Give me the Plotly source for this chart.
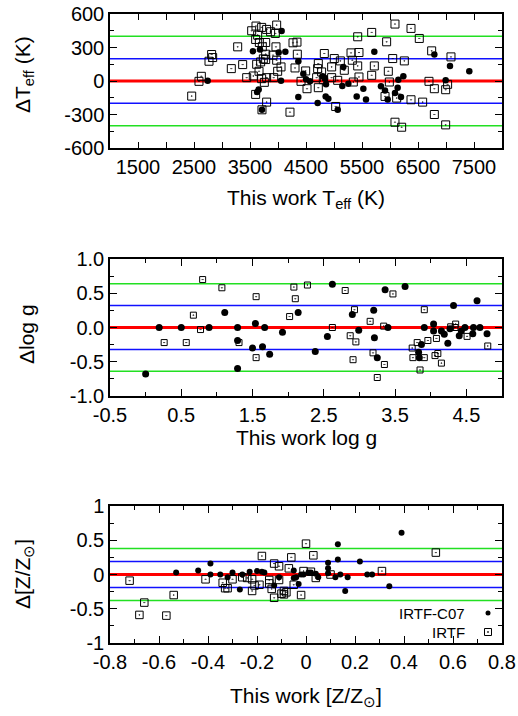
import plotly.graph_objects as go

# ---------------- data ----------------
# Top panel: Teff (K), difference (K)
teff_c07_x = [2744, 3553, 3678, 4065, 4012, 4054, 3655, 3625, 3714, 4131, 4363, 4452, 4500, 4571,
              4363, 4708, 4797, 4839, 4857, 4851, 4899, 5066, 5148, 5166, 5256, 5405, 5524, 5571,
              5720, 5839, 5911, 5959, 6089, 6137, 6149, 6238, 6196, 6792, 6994, 7071, 7416]
teff_c07_y = [3, 267, 282, 447, 255, 3, -75, -99, -258, 261, 177, 66, 15, -3,
              -144, -198, 42, 21, -30, -138, -159, -258, -45, 126, -24, -138, -69, -165,
              261, -48, -84, -165, -108, -60, 12, 42, -144, 237, 6, 135, 87]
teff_irtf_x = [2459, 2589, 2631, 2768, 2815, 2833, 3166, 3280, 3369, 3441, 3530, 3559, 3601, 3637,
               3667, 3780, 3607, 3708, 3797, 3868, 3976, 3952, 3720, 3780, 3738, 3619, 3690, 3780,
               3911, 3964, 3976, 4054, 3994, 3661, 3708, 3797, 3923, 3756, 3601, 3797, 3714, 4214,
               4268, 4339, 4345, 4304, 4494, 4411, 4518, 4708, 4720, 4690, 4779, 4720, 4809, 4827,
               4958, 4958, 5005, 5066, 5113, 5184, 5304, 5327, 5345, 5423, 5423, 5446, 5446, 5673,
               5720, 5673, 5940, 5970, 6048, 6089, 6375, 6256, 5988, 5911, 6119, 6375, 6583, 6523,
               6744, 6792, 6696, 6994, 7029, 7089, 6792, 6089, 6208, 6994, 5030]
teff_irtf_y = [-135, -3, 42, 177, 237, 210, 111, 306, 147, 30, 450, 45, 372, 411,
               345, 345, 492, 480, 462, 441, 501, 426, 306, 240, 198, 150, 171, 192,
               231, 306, 186, 126, 87, 87, 21, 30, 30, -12, -120, -189, -258, -279,
               342, 348, 240, 117, 90, -3, -69, 111, 156, 30, 81, -60, 12, 246,
               126, 30, 201, 6, 180, 96, 252, 186, -9, 396, 135, 255, 36, 435,
               135, 51, 351, 87, 201, 510, 471, 180, -9, -138, -153, -168, -189, 381,
               270, -69, -3, -78, -30, 216, -300, -369, -414, -393, -228]

# Middle panel: log g, difference
logg_c07_x = [0.0, 0.19, 0.50, 0.89, 1.11, 1.29, 1.29, 1.29, 1.54, 1.50, 1.64, 1.67, 1.74, 1.92,
              2.14, 2.38, 2.55, 2.62, 2.90, 2.99, 3.20, 3.21, 3.25, 3.36, 3.40, 3.64, 3.83, 3.84,
              3.87, 3.91, 4.04, 4.04, 4.15, 4.19, 4.24, 4.27, 4.32, 4.40, 4.43, 4.48, 4.59, 4.60,
              4.65, 4.69, 4.79]
logg_c07_y = [-0.68, 0.0, 0.0, 0.0, 0.22, 0.0, -0.19, -0.60, 0.06, -0.30, -0.28, 0.0, -0.39, -0.07,
              0.22, -0.35, -0.13, 0.63, 0.19, -0.04, 0.25, -0.15, -0.44, 0.55, 0.0, 0.60, -0.36, -0.44,
              -0.25, 0.0, 0.05, -0.05, -0.05, -0.10, -0.23, -0.02, 0.32, -0.12, -0.05, 0.0, -0.09, 0.0,
              0.39, 0.0, -0.09]
logg_irtf_x = [0.26, 0.57, 0.67, 0.77, 0.80, 1.07, 1.31, 1.55, 1.55, 2.02, 2.08, 2.10, 2.27, 2.62,
               2.80, 2.87, 2.93, 2.95, 2.91, 3.15, 3.19, 3.25, 3.34, 3.35, 3.47, 3.74, 3.75, 3.81,
               3.85, 3.91, 3.91, 3.96, 4.06, 4.10, 4.08, 4.15, 4.28, 4.34, 4.35, 4.51, 4.80]
logg_irtf_y = [-0.22, -0.22, 0.18, -0.03, 0.70, 0.58, -0.22, 0.45, -0.44, 0.16, 0.59, 0.42, 0.62, 0.0,
               0.54, -0.12, 0.26, -0.21, -0.47, 0.09, -0.37, -0.73, 0.02, -0.54, 0.49, -0.30, -0.44, -0.22,
               -0.62, -0.44, 0.26, -0.19, -0.41, -0.38, -0.16, -0.52, 0.01, 0.0, 0.05, -0.13, -0.27]

# Bottom panel: [Z/Zsun], difference
feh_c07_x = [-0.53, -0.44, -0.39, -0.39, -0.35, -0.32, -0.30, -0.27, -0.26, -0.23, -0.20, -0.18, -0.17,
             -0.11, -0.13, -0.05, -0.05, -0.04, -0.03, -0.02, -0.01, 0.01, 0.02, 0.04, 0.05, 0.09, 0.09,
             0.09, 0.13, 0.13, 0.12, 0.14, 0.16, 0.17, 0.22, 0.25, 0.27, 0.34, 0.39]
feh_c07_y = [0.03, 0.06, 0.16, 0.0, 0.0, -0.04, 0.03, -0.22, 0.0, 0.04, 0.05, 0.04, 0.03,
             -0.04, -0.16, 0.06, -0.05, -0.04, -0.14, 0.0, 0.0, 0.03, 0.03, 0.01, -0.04, 0.17, 0.09,
             0.02, 0.44, 0.22, -0.04, 0.0, -0.24, -0.04, 0.19, 0.0, 0.0, -0.17, 0.61]
feh_irtf_x = [-0.72, -0.66, -0.54, -0.41, -0.34, -0.33, -0.32, -0.30, -0.26, -0.24, -0.22, -0.22, -0.21,
              -0.19, -0.18, -0.15, -0.15, -0.14, -0.13, -0.11, -0.13, -0.11, -0.10, -0.08, -0.07, -0.06,
              -0.05, -0.09, -0.09, -0.02, 0.0, 0.03, -0.01, 0.02, 0.04, 0.10, 0.31, 0.53, -0.68, -0.57]
feh_irtf_y = [-0.09, -0.41, -0.30, -0.07, -0.12, -0.20, -0.20, -0.07, -0.04, -0.05, -0.07, -0.24, -0.16,
              -0.15, 0.27, -0.08, -0.13, -0.21, 0.16, 0.12, -0.34, -0.08, -0.28, -0.26, 0.09, 0.25,
              -0.15, -0.24, -0.29, -0.30, 0.45, 0.28, 0.05, 0.04, -0.05, 0.0, 0.05, 0.32, -0.59, -0.60]

# reference lines (zero, 1 sigma, 2 sigma)
teff_levels = [200, 400]
logg_levels = [0.32, 0.64]
feh_levels = [0.19, 0.38]

# ticks
teff_xtick_vals = [1500, 2500, 3500, 4500, 5500, 6500, 7500]
teff_xtick_text = ["1500", "2500", "3500", "4500", "5500", "6500", "7500"]
teff_xminor = [1000, 2000, 3000, 4000, 5000, 6000, 7000, 8000]
teff_ytick_vals = [-600, -300, 0, 300, 600]
teff_ytick_text = ["-600", "-300", "0", "300", "600"]
teff_yminor = [-450, -150, 150, 450]

logg_xtick_vals = [-0.5, 0.5, 1.5, 2.5, 3.5, 4.5]
logg_xtick_text = ["-0.5", "0.5", "1.5", "2.5", "3.5", "4.5"]
logg_xminor = [0, 1, 2, 3, 4, 5]
logg_ytick_vals = [-1.0, -0.5, 0.0, 0.5, 1.0]
logg_ytick_text = ["-1.0", "-0.5", "0.0", "0.5", "1.0"]
logg_yminor = [-0.75, -0.25, 0.25, 0.75]

feh_xtick_vals = [-0.8, -0.6, -0.4, -0.2, 0, 0.2, 0.4, 0.6, 0.8]
feh_xtick_text = ["-0.8", "-0.6", "-0.4", "-0.2", "0", "0.2", "0.4", "0.6", "0.8"]
feh_xminor = [-0.7, -0.5, -0.3, -0.1, 0.1, 0.3, 0.5, 0.7]
feh_ytick_vals = [-1, -0.5, 0, 0.5, 1]
feh_ytick_text = ["-1", "-0.5", "0", "0.5", "1"]
feh_yminor = [-0.75, -0.25, 0.25, 0.75]

# ---------------- layout geometry ----------------
W, H = 518, 716
ML, MR, MT, MB = 110, 16, 14, 73
PH = H - MT - MB
BOT = H - MB


def dom(top_px, bot_px):
    return [(BOT - bot_px) / PH, (BOT - top_px) / PH]


FONT = "Liberation Sans, Arial, Helvetica, sans-serif"
TICKFONT = dict(family=FONT, size=20, color="black")
TITLEFONT = dict(family=FONT, size=21, color="black")

fig = go.Figure()

panels = [
    ("x", "y", teff_c07_x, teff_c07_y, teff_irtf_x, teff_irtf_y, 6.5, 8),
    ("x2", "y2", logg_c07_x, logg_c07_y, logg_irtf_x, logg_irtf_y, 7, 6),
    ("x3", "y3", feh_c07_x, feh_c07_y, feh_irtf_x, feh_irtf_y, 6, 7.5),
]
for xa, ya, cx, cy, ix, iy, cs, ss in panels:
    fig.add_trace(go.Scatter(x=cx, y=cy, mode="markers", xaxis=xa, yaxis=ya, name="IRTF-C07",
                             showlegend=False,
                             marker=dict(symbol="circle", size=cs, color="black", line=dict(width=0))))
    fig.add_trace(go.Scatter(x=ix, y=iy, mode="markers", xaxis=xa, yaxis=ya, name="IRTF",
                             showlegend=False,
                             marker=dict(symbol="square-open-dot", size=ss, color="black",
                                         line=dict(width=1, color="black"))))


def axis(rng, tv, tt, minor, domain=None, anchor=None, ticklen=7, minorlen=4):
    d = dict(range=rng, tickmode="array", tickvals=tv, ticktext=tt,
             ticks="inside", ticklen=ticklen, tickwidth=1, tickcolor="black",
             showline=True, linecolor="black", linewidth=1.5, mirror="ticks",
             showgrid=False, zeroline=False, tickfont=TICKFONT, automargin=False,
             minor=dict(tickvals=minor, ticks="inside", ticklen=minorlen, tickwidth=1,
                        tickcolor="black", showgrid=False))
    if domain is not None:
        d["domain"] = domain
    if anchor is not None:
        d["anchor"] = anchor
    return d


fig.update_layout(
    width=W, height=H,
    margin=dict(l=ML, r=MR, t=MT, b=MB, autoexpand=False),
    paper_bgcolor="white", plot_bgcolor="white",
    showlegend=False,
    xaxis=axis([1000, 8000], teff_xtick_vals, teff_xtick_text, teff_xminor, [0, 1], "y", 6, 6),
    yaxis=axis([-600, 600], teff_ytick_vals, teff_ytick_text, teff_yminor, dom(14, 148), "x"),
    xaxis2=axis([-0.5, 5.0], logg_xtick_vals, logg_xtick_text, logg_xminor, [0, 1], "y2"),
    yaxis2=axis([-1, 1], logg_ytick_vals, logg_ytick_text, logg_yminor, dom(259, 396), "x2"),
    xaxis3=axis([-0.8, 0.8], feh_xtick_vals, feh_xtick_text, feh_xminor, [0, 1], "y3"),
    yaxis3=axis([-1, 1], feh_ytick_vals, feh_ytick_text, feh_yminor, dom(506, 643), "x3"),
)

# horizontal reference lines
shapes = []
for xa, ya, levels in [("x", "y", teff_levels), ("x2", "y2", logg_levels), ("x3", "y3", feh_levels)]:
    s1, s2 = levels
    for yv, col, w in [(s2, "#22e022", 1.5), (-s2, "#22e022", 1.5),
                       (s1, "#1010ff", 1.5), (-s1, "#1010ff", 1.5), (0, "#ff0000", 3)]:
        shapes.append(dict(type="line", xref=f"{xa} domain", yref=ya, x0=0, x1=1, y0=yv, y1=yv,
                           line=dict(color=col, width=w), layer="below"))


def px2dom_x(px):
    return (px - ML) / (W - ML - MR)


def px2dom_y(py, top, bot):
    return (bot - py) / (bot - top)


# legend keys (bottom panel)
lx = px2dom_x(488)
ly1 = px2dom_y(613, 506, 643)
ly2 = px2dom_y(632, 506, 643)
shapes.append(dict(type="circle", xref="x3 domain", yref="y3 domain", xsizemode="pixel", ysizemode="pixel",
                   xanchor=lx, yanchor=ly1, x0=-2.5, x1=2.5, y0=-2.5, y1=2.5,
                   fillcolor="black", line=dict(color="black", width=0)))
shapes.append(dict(type="rect", xref="x3 domain", yref="y3 domain", xsizemode="pixel", ysizemode="pixel",
                   xanchor=lx, yanchor=ly2, x0=-3.5, x1=3.5, y0=-3.5, y1=3.5,
                   line=dict(color="black", width=1)))
shapes.append(dict(type="rect", xref="x3 domain", yref="y3 domain", xsizemode="pixel", ysizemode="pixel",
                   xanchor=lx, yanchor=ly2, x0=-0.8, x1=0.8, y0=-0.8, y1=0.8,
                   fillcolor="black", line=dict(color="black", width=0)))
fig.update_layout(shapes=shapes)

LEGFONT = dict(family=FONT, size=15, color="black")
ann = [
    dict(text="IRTF-C07", xref="x3 domain", yref="y3 domain", x=px2dom_x(467), y=ly1,
         xanchor="right", yanchor="middle", showarrow=False, font=LEGFONT),
    dict(text="IRTF", xref="x3 domain", yref="y3 domain", x=px2dom_x(467), y=ly2,
         xanchor="right", yanchor="middle", showarrow=False, font=LEGFONT),
]

# axis titles
cx = px2dom_x(306)


def py(p):
    return (BOT - p) / PH


ann += [
    dict(text="This work T<sub>eff</sub> (K)", xref="paper", yref="paper", x=cx, y=py(199),
         xanchor="center", yanchor="middle", showarrow=False, font=TITLEFONT),
    dict(text="This work log g", xref="paper", yref="paper", x=cx, y=py(437),
         xanchor="center", yanchor="middle", showarrow=False, font=TITLEFONT),
    dict(text="This work [Z/Z<sub>⊙</sub>]", xref="paper", yref="paper", x=cx, y=py(697),
         xanchor="center", yanchor="middle", showarrow=False, font=TITLEFONT),
    dict(text="ΔT<sub>eff</sub> (K)", xref="paper", yref="paper", x=px2dom_x(24), y=py(75),
         xanchor="center", yanchor="middle", showarrow=False, textangle=-90, font=TITLEFONT),
    dict(text="Δlog g", xref="paper", yref="paper", x=px2dom_x(26), y=py(334),
         xanchor="center", yanchor="middle", showarrow=False, textangle=-90, font=TITLEFONT),
    dict(text="Δ[Z/Z<sub>⊙</sub>]", xref="paper", yref="paper", x=px2dom_x(24), y=py(574),
         xanchor="center", yanchor="middle", showarrow=False, textangle=-90, font=TITLEFONT),
]
fig.update_layout(annotations=ann)

fig.write_html("out.html")
